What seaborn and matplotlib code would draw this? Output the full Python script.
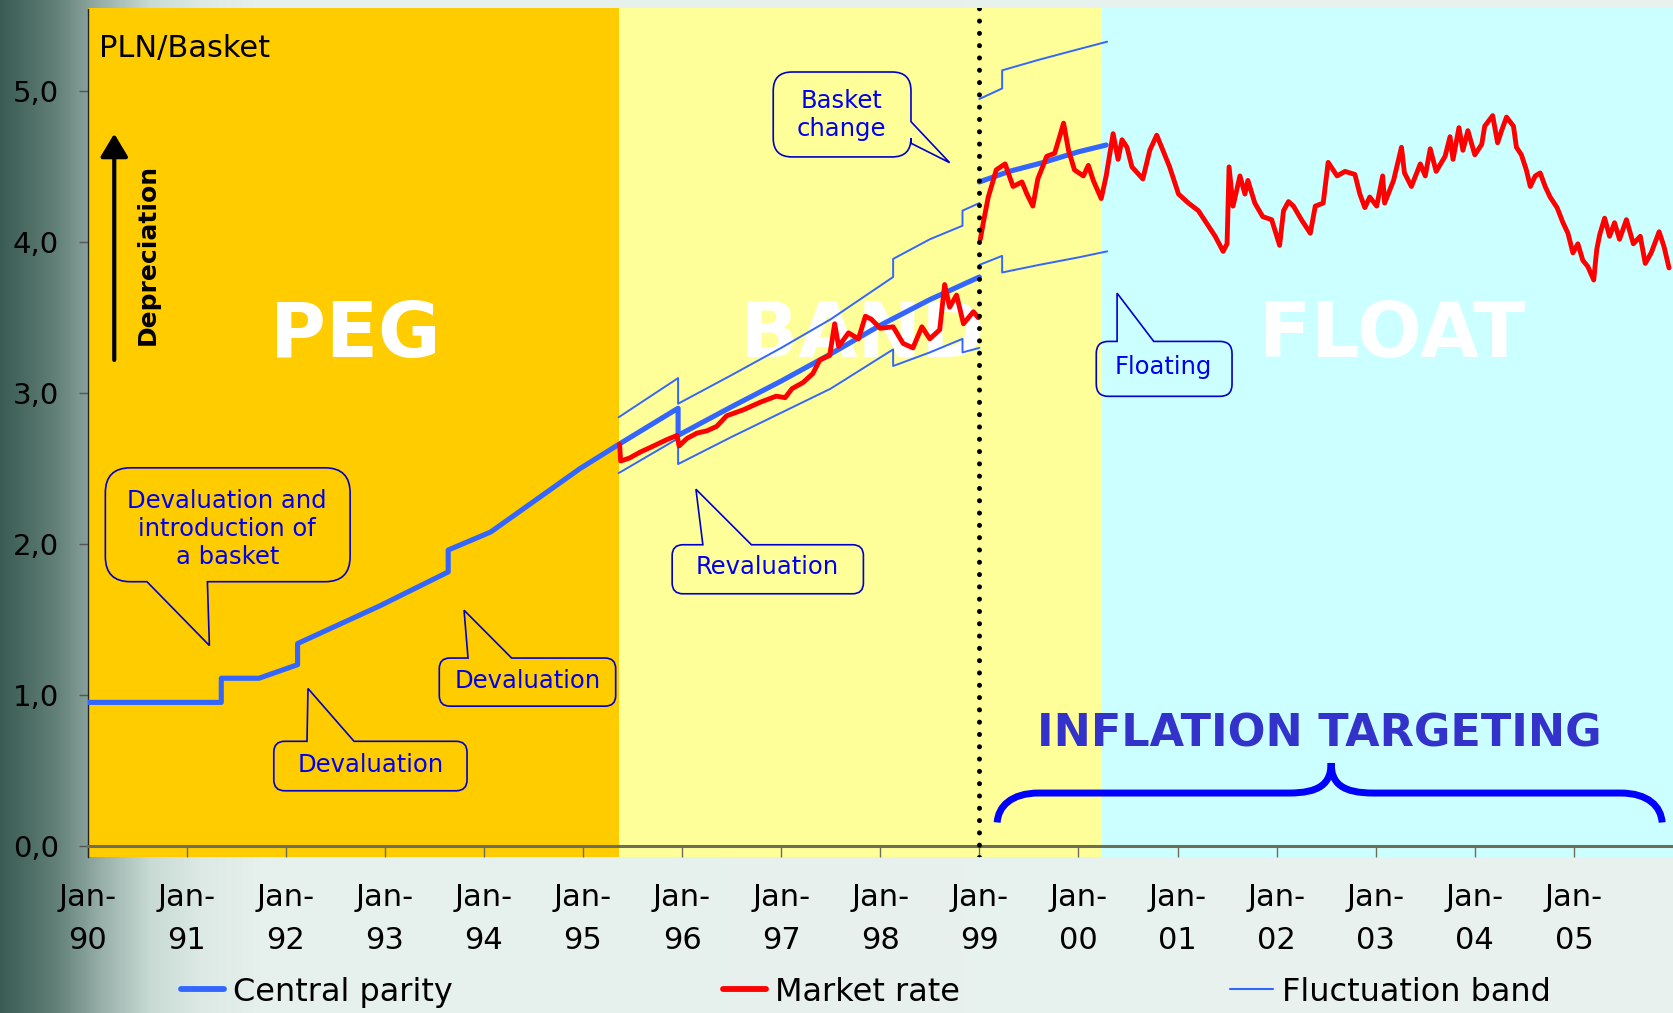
import numpy as np
import pandas as pd
import matplotlib
matplotlib.use("Agg")
import matplotlib.pyplot as plt
import seaborn as sns
from matplotlib.path import Path
from matplotlib.patches import PathPatch
from matplotlib.lines import Line2D

# ---------------------------------------------------------------- data
# Central parity of the zloty (PLN per basket). part 0 = old basket,
# part 1 = new basket introduced in January 1999.
parity_year = [1990.00, 1991.35, 1991.35, 1991.73, 1992.12, 1992.12, 1992.95,
               1993.64, 1993.64, 1994.07, 1994.97, 1995.36, 1995.96, 1995.96,
               1996.50, 1997.00, 1997.50, 1998.00, 1998.50, 1999.00,
               1999.00, 1999.30, 1999.65, 2000.00, 2000.28]
parity_value = [0.95, 0.95, 1.11, 1.11, 1.20, 1.34, 1.59,
                1.815, 1.96, 2.08, 2.50, 2.66, 2.90, 2.72,
                2.91, 3.08, 3.26, 3.45, 3.62, 3.77,
                4.40, 4.47, 4.53, 4.60, 4.645]
parity_part = [0, 0, 0, 0, 0, 0, 0, 0, 0, 0, 0, 0, 0, 0, 0, 0, 0, 0, 0, 0,
               1, 1, 1, 1, 1]

# Fluctuation band edges (same dates for upper and lower edge)
band_year = [1995.36, 1995.96, 1995.96, 1996.50, 1997.00, 1997.50, 1998.13,
             1998.13, 1998.50, 1998.83, 1998.83, 1999.00,
             1999.00, 1999.23, 1999.23, 1999.60, 2000.00, 2000.29]
band_upper = [2.84, 3.10, 2.93, 3.12, 3.30, 3.49, 3.77,
              3.89, 4.02, 4.11, 4.21, 4.26,
              4.95, 5.02, 5.14, 5.21, 5.28, 5.33]
band_lower = [2.47, 2.70, 2.53, 2.71, 2.87, 3.03, 3.29,
              3.18, 3.27, 3.36, 3.27, 3.30,
              3.85, 3.91, 3.80, 3.85, 3.90, 3.94]
band_part = [0, 0, 0, 0, 0, 0, 0, 0, 0, 0, 0, 0,
             1, 1, 1, 1, 1, 1]

# Market rate, PLN per basket
market_year_a = [1995.37, 1995.38, 1995.47, 1995.58, 1995.68, 1995.84, 1995.95,
                 1995.97, 1996.05, 1996.15, 1996.25, 1996.35, 1996.45, 1996.62,
                 1996.79, 1996.95, 1997.04, 1997.11, 1997.22, 1997.32, 1997.39,
                 1997.49, 1997.54, 1997.58, 1997.68, 1997.78, 1997.85, 1997.91,
                 1998.00, 1998.13, 1998.23, 1998.33, 1998.42, 1998.50, 1998.60,
                 1998.65, 1998.70, 1998.77, 1998.84, 1998.94, 1998.99]
market_value_a = [2.66, 2.55, 2.57, 2.61, 2.64, 2.69, 2.72,
                  2.65, 2.70, 2.735, 2.75, 2.78, 2.85, 2.89,
                  2.94, 2.98, 2.97, 3.03, 3.07, 3.13, 3.22,
                  3.25, 3.46, 3.31, 3.40, 3.36, 3.51, 3.49,
                  3.43, 3.44, 3.33, 3.30, 3.44, 3.36, 3.42,
                  3.72, 3.57, 3.65, 3.46, 3.54, 3.50]
market_year_b = [1999.01, 1999.04, 1999.09, 1999.14, 1999.17, 1999.26, 1999.34,
                 1999.43, 1999.48, 1999.54, 1999.59, 1999.68, 1999.76, 1999.81,
                 1999.85, 1999.90, 1999.96, 2000.05, 2000.10, 2000.15, 2000.23,
                 2000.28, 2000.35, 2000.40, 2000.44, 2000.49, 2000.54, 2000.65,
                 2000.72, 2000.79, 2000.84, 2000.92, 2001.01, 2001.11, 2001.21,
                 2001.29, 2001.38, 2001.46, 2001.50, 2001.52, 2001.56, 2001.63,
                 2001.68, 2001.71, 2001.78, 2001.86, 2001.95, 2002.03, 2002.07,
                 2002.12, 2002.17, 2002.25, 2002.34, 2002.39, 2002.47, 2002.52,
                 2002.61, 2002.69, 2002.79, 2002.84, 2002.89, 2002.94, 2003.01,
                 2003.07, 2003.09, 2003.18, 2003.26, 2003.29, 2003.36, 2003.45,
                 2003.50, 2003.55, 2003.61, 2003.70, 2003.75, 2003.78, 2003.84,
                 2003.88, 2003.93, 2004.00, 2004.07, 2004.10, 2004.18, 2004.23,
                 2004.27, 2004.32, 2004.39, 2004.42, 2004.47, 2004.52, 2004.56,
                 2004.61, 2004.66, 2004.71, 2004.76, 2004.83, 2004.89, 2004.94,
                 2004.99, 2005.04, 2005.09, 2005.14, 2005.20, 2005.23, 2005.26,
                 2005.31, 2005.36, 2005.41, 2005.46, 2005.53, 2005.60, 2005.67,
                 2005.72, 2005.78, 2005.86, 2005.91, 2005.96]
market_value_b = [4.02, 4.13, 4.30, 4.41, 4.48, 4.52, 4.37,
                  4.40, 4.32, 4.24, 4.42, 4.57, 4.59, 4.70,
                  4.79, 4.61, 4.48, 4.44, 4.51, 4.41, 4.29,
                  4.44, 4.72, 4.55, 4.68, 4.63, 4.50, 4.42,
                  4.61, 4.71, 4.63, 4.50, 4.32, 4.26, 4.21,
                  4.13, 4.04, 3.94, 3.99, 4.50, 4.24, 4.44,
                  4.32, 4.41, 4.26, 4.17, 4.15, 3.98, 4.21,
                  4.27, 4.24, 4.15, 4.06, 4.24, 4.26, 4.53,
                  4.44, 4.47, 4.45, 4.32, 4.23, 4.30, 4.24,
                  4.44, 4.26, 4.41, 4.63, 4.46, 4.37, 4.52,
                  4.44, 4.62, 4.47, 4.57, 4.70, 4.55, 4.76,
                  4.61, 4.74, 4.58, 4.65, 4.77, 4.84, 4.66,
                  4.74, 4.83, 4.77, 4.63, 4.58, 4.48, 4.37,
                  4.44, 4.46, 4.37, 4.30, 4.23, 4.13, 4.06,
                  3.93, 3.99, 3.88, 3.84, 3.75, 3.95, 4.05,
                  4.16, 4.04, 4.13, 4.02, 4.15, 3.99, 4.04,
                  3.86, 3.93, 4.07, 3.97, 3.83]

regime_edges = [1990.0, 1995.36, 2000.24, 2006.0]
regime_names = ["PEG", "BAND", "FLOAT"]
regime_label_x = [1992.70, 1997.82, 2003.17]
basket_change_year = 1999.0

x_ticks = list(range(1990, 2006))
x_labels = [f"Jan-\n{y % 100:02d}" for y in x_ticks]
y_ticks = [0, 1, 2, 3, 4, 5]
y_labels = [f"{v:.1f}".replace(".", ",") for v in y_ticks]

legend_labels = ["Central parity", "Market rate", "Fluctuation band"]

# ---------------------------------------------------------------- style
BLUE = "#3366FF"
RED = "#FF0000"
NOTE_BLUE = "#0000EE"
REGIME_COLORS = ["#FFCC00", "#FFFF99", "#CCFFFF"]

sns.set_theme(style="ticks")
plt.rcParams["font.family"] = ["DejaVu Sans"]

W, H = 1673, 1013
fig = plt.figure(figsize=(W / 100, H / 100), dpi=100)

# slate-to-mint backdrop behind the whole figure
bg = fig.add_axes([0, 0, 1, 1], zorder=-10)
stops_px = [0, 30, 60, 100, 150, 200, 260, W]
stops_rgb = np.array([[58, 92, 84], [78, 110, 102], [102, 132, 124],
                      [150, 175, 168], [200, 218, 212], [220, 233, 228],
                      [230, 240, 236], [233, 242, 238]]) / 255.0
px = np.arange(W)
ramp = np.stack([np.interp(px, stops_px, stops_rgb[:, k]) for k in range(3)], axis=-1)
bg.imshow(ramp[np.newaxis, :, :], aspect="auto", extent=[0, 1, 0, 1])
bg.set_axis_off()

ax_left, ax_bottom_px, ax_top_px = 87.5, 856.7, 8.5
ax = fig.add_axes([ax_left / W, (H - ax_bottom_px) / H,
                   1 - ax_left / W, (ax_bottom_px - ax_top_px) / H])
ax.set_facecolor("none")

# regime backgrounds and captions
for left, right, colour in zip(regime_edges[:-1], regime_edges[1:], REGIME_COLORS):
    ax.axvspan(left, right, color=colour, lw=0, zorder=0)
for name, xpos in zip(regime_names, regime_label_x):
    ax.text(xpos, 3.24, name, color="white", fontsize=55, fontweight="bold",
            ha="center", va="baseline", zorder=1)

# series
parity = pd.DataFrame({"year": parity_year, "value": parity_value, "part": parity_part})
band = pd.concat([
    pd.DataFrame({"year": band_year, "value": band_upper,
                  "part": [f"upper{p}" for p in band_part]}),
    pd.DataFrame({"year": band_year, "value": band_lower,
                  "part": [f"lower{p}" for p in band_part]}),
], ignore_index=True)
market = pd.concat([
    pd.DataFrame({"year": market_year_a, "value": market_value_a, "part": 0}),
    pd.DataFrame({"year": market_year_b, "value": market_value_b, "part": 1}),
], ignore_index=True)

sns.lineplot(data=parity, x="year", y="value", units="part", estimator=None,
             sort=False, color=BLUE, linewidth=3.7, legend=False, ax=ax, zorder=3)
sns.lineplot(data=band, x="year", y="value", units="part", estimator=None,
             sort=False, color=BLUE, linewidth=1.4, legend=False, ax=ax, zorder=3.5)
sns.lineplot(data=market, x="year", y="value", units="part", estimator=None,
             sort=False, color=RED, linewidth=3.5, legend=False, ax=ax, zorder=4)

# basket change marker
ax.axvline(basket_change_year, color="black", lw=3.6, ls=(0, (0.01, 2.45)),
           dash_capstyle="round", zorder=6)

# axes cosmetics
ax.set(xlabel=None, ylabel=None)
ax.set_xlim(1990.0, 2006.0)
ax.set_ylim(-0.073, 5.55)
ax.set_xticks(x_ticks)
ax.set_xticklabels(x_labels)
ax.set_yticks(y_ticks)
ax.set_yticklabels(y_labels)
for side in ("top", "right"):
    ax.spines[side].set_visible(False)
ax.spines["bottom"].set_position(("data", 0))
ax.spines["bottom"].set_color("#6e6e58")
ax.spines["bottom"].set_linewidth(2.2)
ax.spines["bottom"].set_zorder(5)
ax.spines["left"].set_color("#222222")
ax.spines["left"].set_linewidth(1.0)
ax.tick_params(axis="x", direction="out", length=8, width=1.0, color="#6e6e58",
               pad=19, labelsize=22, labelcolor="black", bottom=True)
ax.tick_params(axis="y", direction="out", length=6.5, width=1.0, color="#555555",
               pad=14, labelsize=21, labelcolor="black", left=True)
for lbl in ax.get_xticklabels():
    lbl.set_linespacing(1.6)

ax.text(1990.12, 5.23, "PLN/Basket", fontsize=22, ha="left", va="baseline", color="black")

# depreciation arrow
ax.annotate("", xy=(1990.27, 4.72), xytext=(1990.27, 3.22),
            arrowprops=dict(arrowstyle="-|>,head_length=0.7,head_width=0.42",
                            mutation_scale=20, lw=3, color="black",
                            shrinkA=0, shrinkB=0), zorder=5)
ax.text(1990.61, 3.92, "Depreciation", rotation=90, fontsize=18, fontweight="bold",
        ha="center", va="center", color="black")

# callouts
fig.canvas.draw()
p0, p1 = ax.transData.transform([(1990.0, 0.0), (1991.0, 1.0)])
px_per_year, px_per_unit = p1[0] - p0[0], p1[1] - p0[1]

callout_text = ["Devaluation and\nintroduction of\na basket", "Devaluation",
                "Devaluation", "Revaluation", "Basket\nchange", "Floating"]
callout_box = [(1990.18, 1992.65, 1.750, 2.505), (1991.88, 1993.83, 0.364, 0.692),
               (1993.55, 1995.33, 0.925, 1.244), (1995.90, 1997.83, 1.670, 1.995),
               (1996.92, 1998.31, 4.566, 5.129), (2000.18, 2001.55, 2.979, 3.343)]
callout_side = ["bottom", "top", "top", "top", "right", "top"]
callout_base = [(1990.60, 1991.21), (1992.215, 1992.69), (1993.84, 1994.28),
                (1996.21, 1996.70), (4.657, 4.800), (2000.39, 2000.76)]
callout_tip = [(1991.23, 1.327), (1992.225, 1.042), (1993.80, 1.561),
               (1996.14, 2.363), (1998.70, 4.528), (2000.39, 3.663)]
callout_text_xy = [(1991.41, 2.10), (1992.86, 0.537), (1994.44, 1.095),
                   (1996.86, 1.845), (1997.61, 4.846), (2000.86, 3.174)]


def callout_path(box, side, base, tip):
    x0, x1, y0, y1 = box
    r = 0.22 * min((x1 - x0) * px_per_year, (y1 - y0) * px_per_unit)
    rx, ry = r / px_per_year, r / px_per_unit
    b0, b1 = base
    verts, codes = [], []

    def add(p, c=Path.LINETO):
        verts.append(p)
        codes.append(c)

    add((x0 + rx, y0), Path.MOVETO)
    if side == "bottom":
        add((b0, y0)); add(tip); add((b1, y0))
    add((x1 - rx, y0))
    add((x1, y0), Path.CURVE3); add((x1, y0 + ry), Path.CURVE3)
    if side == "right":
        add((x1, b0)); add(tip); add((x1, b1))
    add((x1, y1 - ry))
    add((x1, y1), Path.CURVE3); add((x1 - rx, y1), Path.CURVE3)
    if side == "top":
        add((b1, y1)); add(tip); add((b0, y1))
    add((x0 + rx, y1))
    add((x0, y1), Path.CURVE3); add((x0, y1 - ry), Path.CURVE3)
    add((x0, y0 + ry))
    add((x0, y0), Path.CURVE3); add((x0 + rx, y0), Path.CURVE3)
    add((0, 0), Path.CLOSEPOLY)
    return Path(verts, codes)


for text, box, side, base, tip, txy in zip(callout_text, callout_box, callout_side,
                                           callout_base, callout_tip, callout_text_xy):
    ax.add_patch(PathPatch(callout_path(box, side, base, tip), facecolor="none",
                           edgecolor="#0000CC", lw=1.2, zorder=7))
    ax.text(txy[0], txy[1], text, color=NOTE_BLUE, fontsize=17.5, ha="center",
            va="center", linespacing=1.2, zorder=8)

# inflation targeting brace
bx0, bx1, bmid = 1999.18, 2005.89, 2002.55
by_tip, by_bar, by_peak = 0.154, 0.349, 0.548
brace_verts = [(bx0, by_tip),
               (bx0 + 0.01, by_bar - 0.09), (bx0 + 0.14, by_bar), (bx0 + 0.42, by_bar),
               (bmid - 0.43, by_bar),
               (bmid - 0.12, by_bar), (bmid, by_bar + 0.06), (bmid, by_peak),
               (bmid, by_bar + 0.06), (bmid + 0.12, by_bar), (bmid + 0.43, by_bar),
               (bx1 - 0.42, by_bar),
               (bx1 - 0.14, by_bar), (bx1 - 0.01, by_bar - 0.09), (bx1, by_tip)]
brace_codes = [Path.MOVETO, Path.CURVE4, Path.CURVE4, Path.CURVE4, Path.LINETO,
               Path.CURVE4, Path.CURVE4, Path.CURVE4, Path.CURVE4, Path.CURVE4,
               Path.CURVE4, Path.LINETO, Path.CURVE4, Path.CURVE4, Path.CURVE4]
ax.add_patch(PathPatch(Path(brace_verts, brace_codes), facecolor="none",
                       edgecolor="#0000FF", lw=5.0, capstyle="butt", zorder=7))
ax.text(2002.43, 0.657, "INFLATION TARGETING", color="#3333CC", fontsize=32,
        fontweight="bold", ha="center", va="baseline", zorder=8)

# legend along the bottom
handles = [Line2D([], [], color=BLUE, lw=4.2, solid_capstyle="round"),
           Line2D([], [], color=RED, lw=4.2, solid_capstyle="round"),
           Line2D([], [], color=BLUE, lw=1.5)]
fig.legend(handles, legend_labels, loc="center left",
           bbox_to_anchor=(181 / W, 1 - 992 / H), ncol=3, frameon=False,
           fontsize=23, handlelength=1.35, handletextpad=0.28, columnspacing=8.45,
           borderpad=0, borderaxespad=0, labelcolor="black")

fig.savefig("out.png", dpi=100)
